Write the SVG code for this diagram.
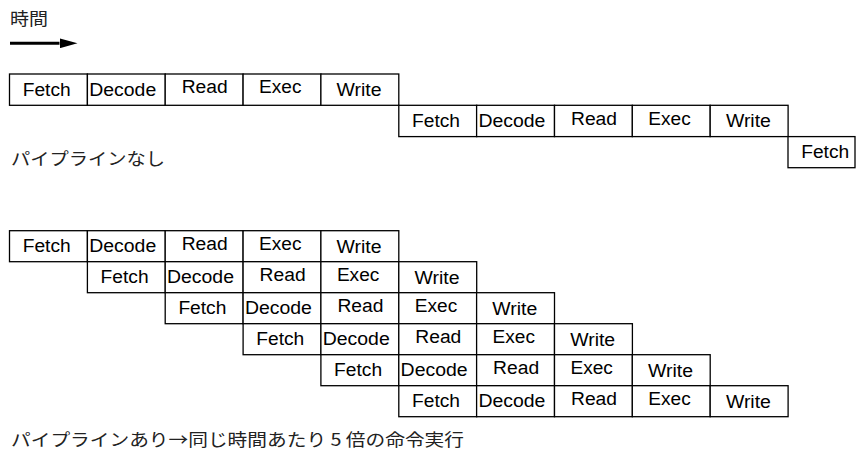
<svg xmlns="http://www.w3.org/2000/svg" width="856" height="452" viewBox="0 0 856 452">
<style>
.c{fill:#fff;stroke:#000;stroke-width:1.3}
.t{font-family:"Liberation Sans",Arial,Helvetica,sans-serif;font-size:18px;fill:#000}
.j{font-family:"Noto Sans CJK JP","Noto Sans CJK SC",sans-serif;font-size:17px;fill:#222}
</style>
<defs>
<marker id="ah" viewBox="0 0 18 10" refX="0" refY="5" markerWidth="18" markerHeight="10" markerUnits="userSpaceOnUse" orient="auto">
<path d="M0,0 L18,5 L0,10 Z" fill="#000"/>
</marker>
</defs>
<rect width="856" height="452" fill="#fff"/>
<text class="j" x="10" y="24.5" textLength="38" lengthAdjust="spacingAndGlyphs">時間</text>
<g id="connectors">
<line x1="10" y1="43.3" x2="59.5" y2="43.3" stroke="#000" stroke-width="3" marker-end="url(#ah)"/>
</g>

<g id="seq1">
<g transform="translate(9.5,74)"><rect class="c" width="77.9" height="31.3"/><text class="t" x="13.2" y="21.6" textLength="48" lengthAdjust="spacingAndGlyphs">Fetch</text></g>
<g transform="translate(87.4,74)"><rect class="c" width="77.9" height="31.3"/><text class="t" x="1.8" y="21.6" textLength="67" lengthAdjust="spacingAndGlyphs">Decode</text></g>
<g transform="translate(165.2,74)"><rect class="c" width="77.9" height="31.3"/><text class="t" x="16.5" y="19.3" textLength="46" lengthAdjust="spacingAndGlyphs">Read</text></g>
<g transform="translate(243.1,74)"><rect class="c" width="77.9" height="31.3"/><text class="t" x="16" y="19.3" textLength="42.4" lengthAdjust="spacingAndGlyphs">Exec</text></g>
<g transform="translate(320.9,74)"><rect class="c" width="77.9" height="31.3"/><text class="t" x="15.7" y="22" textLength="45" lengthAdjust="spacingAndGlyphs">Write</text></g>
</g>
<g id="seq2">
<g transform="translate(398.8,105.3)"><rect class="c" width="77.9" height="31.3"/><text class="t" x="13.2" y="21.6" textLength="48" lengthAdjust="spacingAndGlyphs">Fetch</text></g>
<g transform="translate(476.6,105.3)"><rect class="c" width="77.9" height="31.3"/><text class="t" x="1.8" y="21.6" textLength="67" lengthAdjust="spacingAndGlyphs">Decode</text></g>
<g transform="translate(554.5,105.3)"><rect class="c" width="77.9" height="31.3"/><text class="t" x="16.5" y="19.3" textLength="46" lengthAdjust="spacingAndGlyphs">Read</text></g>
<g transform="translate(632.3,105.3)"><rect class="c" width="77.9" height="31.3"/><text class="t" x="16" y="19.3" textLength="42.4" lengthAdjust="spacingAndGlyphs">Exec</text></g>
<g transform="translate(710.2,105.3)"><rect class="c" width="77.9" height="31.3"/><text class="t" x="15.7" y="22" textLength="45" lengthAdjust="spacingAndGlyphs">Write</text></g>
</g>
<g id="seq3">
<g transform="translate(788,136.6)"><rect class="c" width="67" height="31.1"/><text class="t" x="13.2" y="21.6" textLength="48" lengthAdjust="spacingAndGlyphs">Fetch</text></g>
</g>
<text class="j" x="11" y="165" textLength="154" lengthAdjust="spacingAndGlyphs">パイプラインなし</text>

<g id="pipe1">
<g transform="translate(9.5,230.7)"><rect class="c" width="77.9" height="31"/><text class="t" x="13.2" y="21.6" textLength="48" lengthAdjust="spacingAndGlyphs">Fetch</text></g>
<g transform="translate(87.4,230.7)"><rect class="c" width="77.9" height="31"/><text class="t" x="1.8" y="21.6" textLength="67" lengthAdjust="spacingAndGlyphs">Decode</text></g>
<g transform="translate(165.2,230.7)"><rect class="c" width="77.9" height="31"/><text class="t" x="16.5" y="19.3" textLength="46" lengthAdjust="spacingAndGlyphs">Read</text></g>
<g transform="translate(243.1,230.7)"><rect class="c" width="77.9" height="31"/><text class="t" x="16" y="19.3" textLength="42.4" lengthAdjust="spacingAndGlyphs">Exec</text></g>
<g transform="translate(320.9,230.7)"><rect class="c" width="77.9" height="31"/><text class="t" x="15.7" y="22" textLength="45" lengthAdjust="spacingAndGlyphs">Write</text></g>
</g>
<g id="pipe2">
<g transform="translate(87.4,261.7)"><rect class="c" width="77.9" height="31"/><text class="t" x="13.2" y="21.6" textLength="48" lengthAdjust="spacingAndGlyphs">Fetch</text></g>
<g transform="translate(165.2,261.7)"><rect class="c" width="77.9" height="31"/><text class="t" x="1.8" y="21.6" textLength="67" lengthAdjust="spacingAndGlyphs">Decode</text></g>
<g transform="translate(243.1,261.7)"><rect class="c" width="77.9" height="31"/><text class="t" x="16.5" y="19.3" textLength="46" lengthAdjust="spacingAndGlyphs">Read</text></g>
<g transform="translate(320.9,261.7)"><rect class="c" width="77.9" height="31"/><text class="t" x="16" y="19.3" textLength="42.4" lengthAdjust="spacingAndGlyphs">Exec</text></g>
<g transform="translate(398.8,261.7)"><rect class="c" width="77.9" height="31"/><text class="t" x="15.7" y="22" textLength="45" lengthAdjust="spacingAndGlyphs">Write</text></g>
</g>
<g id="pipe3">
<g transform="translate(165.2,292.7)"><rect class="c" width="77.9" height="31"/><text class="t" x="13.2" y="21.6" textLength="48" lengthAdjust="spacingAndGlyphs">Fetch</text></g>
<g transform="translate(243.1,292.7)"><rect class="c" width="77.9" height="31"/><text class="t" x="1.8" y="21.6" textLength="67" lengthAdjust="spacingAndGlyphs">Decode</text></g>
<g transform="translate(320.9,292.7)"><rect class="c" width="77.9" height="31"/><text class="t" x="16.5" y="19.3" textLength="46" lengthAdjust="spacingAndGlyphs">Read</text></g>
<g transform="translate(398.8,292.7)"><rect class="c" width="77.9" height="31"/><text class="t" x="16" y="19.3" textLength="42.4" lengthAdjust="spacingAndGlyphs">Exec</text></g>
<g transform="translate(476.6,292.7)"><rect class="c" width="77.9" height="31"/><text class="t" x="15.7" y="22" textLength="45" lengthAdjust="spacingAndGlyphs">Write</text></g>
</g>
<g id="pipe4">
<g transform="translate(243.1,323.7)"><rect class="c" width="77.9" height="31"/><text class="t" x="13.2" y="21.6" textLength="48" lengthAdjust="spacingAndGlyphs">Fetch</text></g>
<g transform="translate(320.9,323.7)"><rect class="c" width="77.9" height="31"/><text class="t" x="1.8" y="21.6" textLength="67" lengthAdjust="spacingAndGlyphs">Decode</text></g>
<g transform="translate(398.8,323.7)"><rect class="c" width="77.9" height="31"/><text class="t" x="16.5" y="19.3" textLength="46" lengthAdjust="spacingAndGlyphs">Read</text></g>
<g transform="translate(476.6,323.7)"><rect class="c" width="77.9" height="31"/><text class="t" x="16" y="19.3" textLength="42.4" lengthAdjust="spacingAndGlyphs">Exec</text></g>
<g transform="translate(554.5,323.7)"><rect class="c" width="77.9" height="31"/><text class="t" x="15.7" y="22" textLength="45" lengthAdjust="spacingAndGlyphs">Write</text></g>
</g>
<g id="pipe5">
<g transform="translate(320.9,354.7)"><rect class="c" width="77.9" height="31"/><text class="t" x="13.2" y="21.6" textLength="48" lengthAdjust="spacingAndGlyphs">Fetch</text></g>
<g transform="translate(398.8,354.7)"><rect class="c" width="77.9" height="31"/><text class="t" x="1.8" y="21.6" textLength="67" lengthAdjust="spacingAndGlyphs">Decode</text></g>
<g transform="translate(476.6,354.7)"><rect class="c" width="77.9" height="31"/><text class="t" x="16.5" y="19.3" textLength="46" lengthAdjust="spacingAndGlyphs">Read</text></g>
<g transform="translate(554.5,354.7)"><rect class="c" width="77.9" height="31"/><text class="t" x="16" y="19.3" textLength="42.4" lengthAdjust="spacingAndGlyphs">Exec</text></g>
<g transform="translate(632.3,354.7)"><rect class="c" width="77.9" height="31"/><text class="t" x="15.7" y="22" textLength="45" lengthAdjust="spacingAndGlyphs">Write</text></g>
</g>
<g id="pipe6">
<g transform="translate(398.8,385.7)"><rect class="c" width="77.9" height="31"/><text class="t" x="13.2" y="21.6" textLength="48" lengthAdjust="spacingAndGlyphs">Fetch</text></g>
<g transform="translate(476.6,385.7)"><rect class="c" width="77.9" height="31"/><text class="t" x="1.8" y="21.6" textLength="67" lengthAdjust="spacingAndGlyphs">Decode</text></g>
<g transform="translate(554.5,385.7)"><rect class="c" width="77.9" height="31"/><text class="t" x="16.5" y="19.3" textLength="46" lengthAdjust="spacingAndGlyphs">Read</text></g>
<g transform="translate(632.3,385.7)"><rect class="c" width="77.9" height="31"/><text class="t" x="16" y="19.3" textLength="42.4" lengthAdjust="spacingAndGlyphs">Exec</text></g>
<g transform="translate(710.2,385.7)"><rect class="c" width="77.9" height="31"/><text class="t" x="15.7" y="22" textLength="45" lengthAdjust="spacingAndGlyphs">Write</text></g>
</g>
<text class="j" x="11" y="445.5" textLength="453" lengthAdjust="spacingAndGlyphs">パイプラインあり→同じ時間あたり 5 倍の命令実行</text>
</svg>
